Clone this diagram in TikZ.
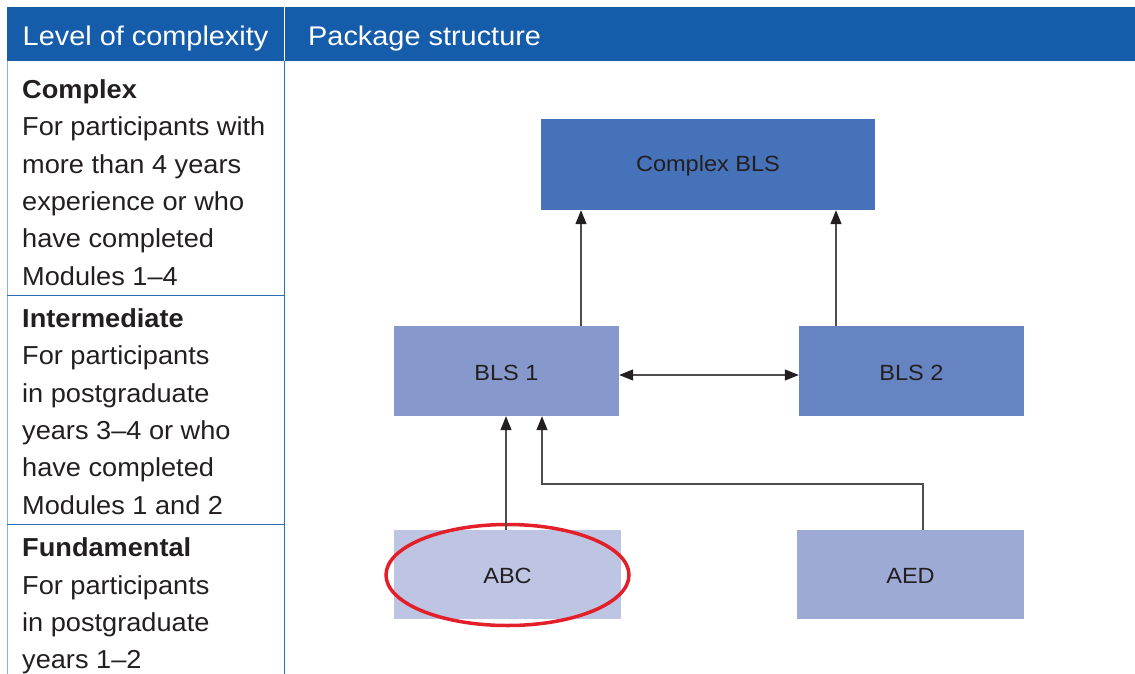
\documentclass[tikz,border=0pt]{standalone}
\usepackage{fontspec}
\setmainfont{Liberation Sans}
\newfontfamily\bodyfont{Liberation Sans}[FakeStretch=1.045]
\newfontfamily\hdrfont{Liberation Sans}[FakeStretch=1.07]
\newfontfamily\boxfont{Liberation Sans}[FakeStretch=1.07]
\usetikzlibrary{arrows.meta,shapes.geometric}
\definecolor{hdr}{HTML}{155CAB}
\definecolor{lline}{HTML}{8DB0DD}
\definecolor{rline}{HTML}{2E6DB5}
\definecolor{txt}{HTML}{231F20}
\definecolor{cCBLS}{HTML}{4572B8}
\definecolor{cBLSa}{HTML}{8799CC}
\definecolor{cBLSb}{HTML}{6683C2}
\definecolor{cABC}{HTML}{BEC5E3}
\definecolor{cAED}{HTML}{9DAAD6}
\definecolor{hlred}{HTML}{E3202A}
\definecolor{conn}{HTML}{4D4D4D}
\tikzset{
  tip/.tip={Triangle[length=14pt,width=11pt,fill=txt,color=txt]},
  box/.style={rectangle, inner sep=0pt, text=txt, font=\boxfont\fontsize{22}{26}\selectfont},
  lbl/.style={inner sep=0pt, text=txt, font=\boxfont\fontsize{22}{26}\selectfont},
  arr/.style={draw=conn, line width=1.2pt, -tip},
  arrboth/.style={draw=conn, line width=1.2pt, tip-tip},
  hdrtext/.style={text=white, inner sep=0pt, anchor=base west, font=\hdrfont\fontsize{27}{30}\selectfont},
  body/.style={text=txt, inner sep=0pt, anchor=base west, font=\bodyfont\fontsize{26}{30}\selectfont},
  bodyb/.style={body, font=\bodyfont\fontsize{26}{30}\selectfont\bfseries},
}
\begin{document}
\begin{tikzpicture}[x=1pt,y=-1pt]
\useasboundingbox (0,0) rectangle (1135,674);
% header band
\fill[hdr] (7,7) rectangle (1135,61);
\draw[white, line width=1.5pt] (284.5,7) -- (284.5,61);
\node[hdrtext] (h1) at (22.5,45.5) {Level of complexity};
\node[hdrtext] (h2) at (308,45.5) {Package structure};
% left column
\draw[lline, line width=1.5pt] (7.5,61) -- (7.5,674);
\draw[rline, line width=1.3pt] (284.5,61) -- (284.5,674);
\draw[rline, line width=1.1pt] (7,295.5) -- (284.5,295.5);
\draw[rline, line width=1.1pt] (7,524.5) -- (284.5,524.5);
% block 1
\node[bodyb] (t1) at (22,98.5) {Complex};
\node[body] (t2) at (22,135.8) {For participants with};
\node[body] (t3) at (22,173.1) {more than 4 years};
\node[body] (t4) at (22,210.4) {experience or who};
\node[body] (t5) at (22,247.7) {have completed};
\node[body] (t6) at (22,285) {Modules 1–4};
% block 2
\node[bodyb] (u1) at (22,327.5) {Intermediate};
\node[body] (u2) at (22,364.8) {For participants};
\node[body] (u3) at (22,402.1) {in postgraduate};
\node[body] (u4) at (22,439.4) {years 3–4 or who};
\node[body] (u5) at (22,476.7) {have completed};
\node[body] (u6) at (22,514) {Modules 1 and 2};
% block 3
\node[bodyb] (v1) at (22,556.5) {Fundamental};
\node[body] (v2) at (22,594) {For participants};
\node[body] (v3) at (22,631.5) {in postgraduate};
\node[body] (v4) at (22,668.5) {years 1–2};
% diagram boxes
\node[box, fill=cCBLS, minimum width=334pt, minimum height=91pt] (cbls) at (708,164.5) {};
\node[box, fill=cBLSa, minimum width=225pt, minimum height=90pt] (bls1) at (506.5,371) {};
\node[box, fill=cBLSb, minimum width=225pt, minimum height=90pt] (bls2) at (911.5,371) {};
\node[box, fill=cABC, minimum width=227pt, minimum height=89pt] (abc) at (507.5,574.5) {};
\node[box, fill=cAED, minimum width=227pt, minimum height=89pt] (aed) at (910.5,574.5) {};
\node[lbl] (cblsl) at ([yshift=-1.5pt]cbls.center) {Complex BLS};
\node[lbl] (bls1l) at ([yshift=-1.5pt]bls1.center) {BLS 1};
\node[lbl] (bls2l) at ([yshift=-1.5pt]bls2.center) {BLS 2};
\node[lbl] (abcl) at ([yshift=-1.5pt]abc.center) {ABC};
\node[lbl] (aedl) at ([yshift=-1.5pt]aed.center) {AED};
% highlight ellipse
\node[ellipse, draw=hlred, line width=3.5pt, minimum width=243pt, minimum height=101pt, inner sep=0pt] (hl) at (507.5,575) {};
% connectors
\coordinate (c1) at (581,0);
\coordinate (c2) at (836,0);
\coordinate (a0) at (506,0);
\coordinate (a1) at (923,0);
\coordinate (k) at (542,484);
\coordinate (m) at (0,375);
\draw[arr] (bls1.north -| c1) -- (cbls.south -| c1);
\draw[arr] (bls2.north -| c2) -- (cbls.south -| c2);
\draw[arrboth] (bls1.east |- m) -- (bls2.west |- m);
\draw[arr] (abc.north -| a0) -- (bls1.south -| a0);
\draw[arr] (aed.north -| a1) |- (k) -- (bls1.south -| k);
\end{tikzpicture}
\end{document}
